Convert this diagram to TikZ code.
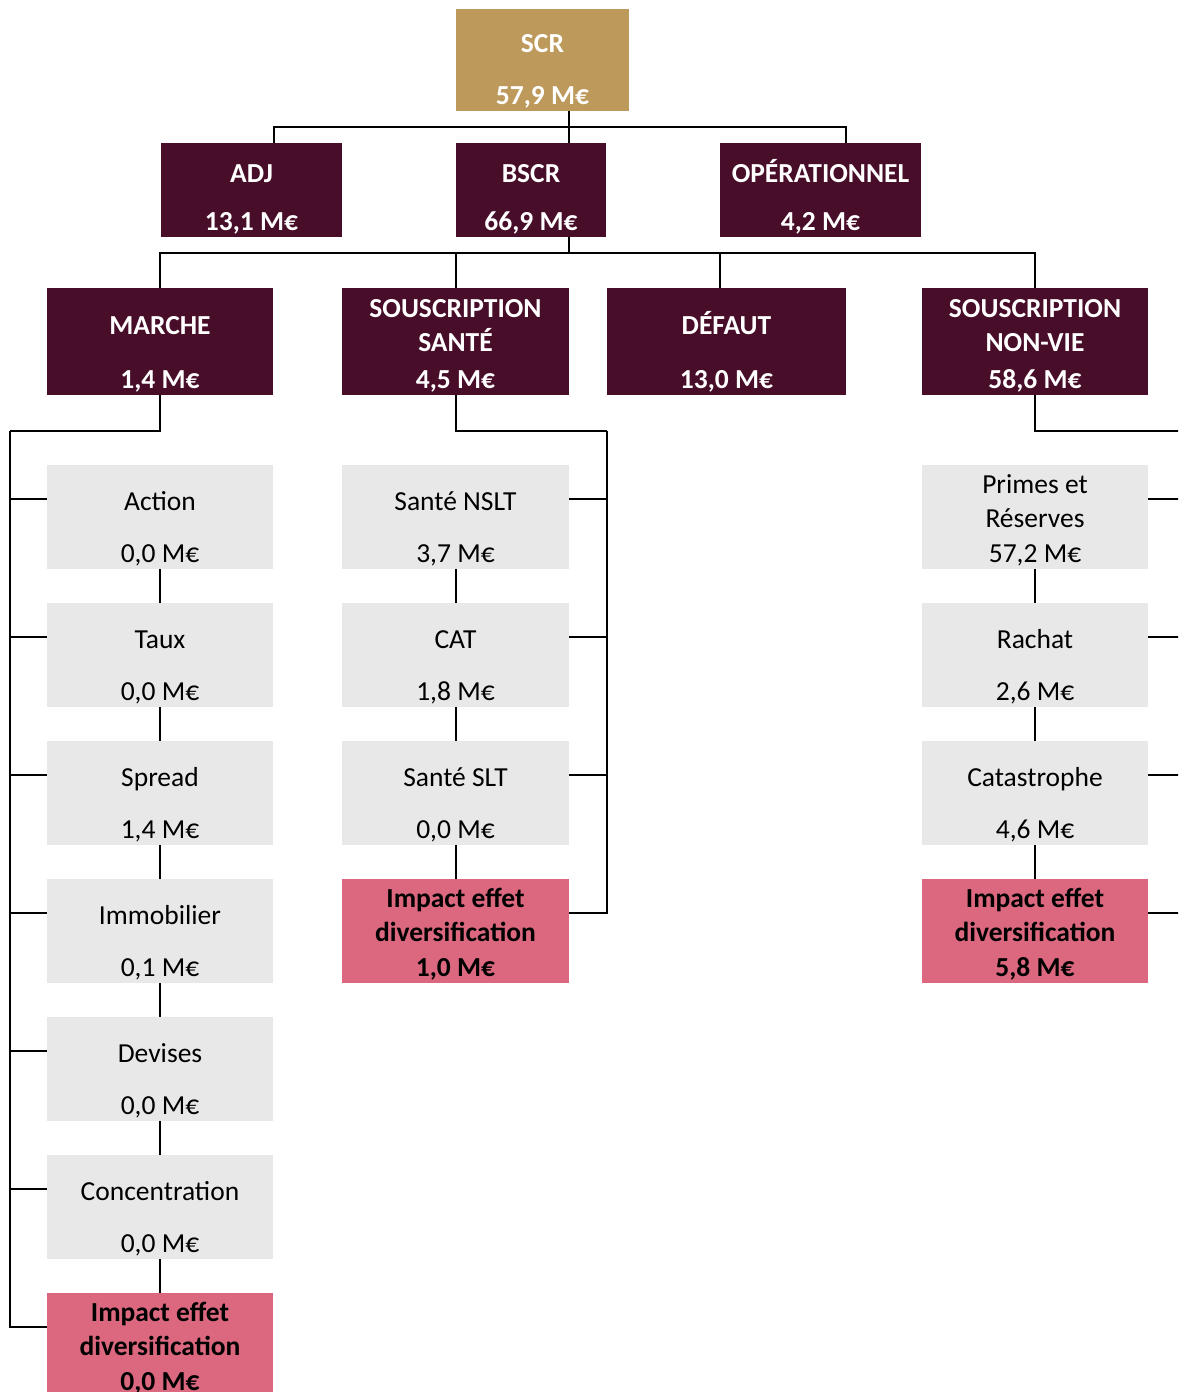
\documentclass[tikz,border=0pt]{standalone}
\usepackage{fontspec}
\setmainfont{Carlito}
\usetikzlibrary{calc}
\definecolor{goldc}{HTML}{BD9A5C}
\definecolor{maroonc}{HTML}{470D29}
\definecolor{greyc}{HTML}{E8E8E8}
\definecolor{rosec}{HTML}{DC6880}
\begin{document}
\begin{tikzpicture}[x=1pt,y=-1pt,
  box/.style={rectangle, inner sep=0pt, outer sep=0pt, anchor=north west, draw=none},
  lab/.style={anchor=base, inner sep=0pt, font=\fontsize{27.5}{33}\selectfont},
  wlab/.style={lab, text=white, font=\fontsize{27.5}{33}\selectfont\bfseries},
  blab/.style={lab, text=black, font=\fontsize{27.5}{33}\selectfont\bfseries},
  link/.style={line width=2pt, black}]
\clip (0,0) rectangle (1178,1392);
\fill[white] (0,0) rectangle (1178,1392);
% ---------- boxes ----------
\node[box, fill=goldc, minimum width=173pt, minimum height=102pt] (scr) at (456,9) {};
\node[box, fill=maroonc, minimum width=181pt, minimum height=94pt] (adj) at (161,143) {};
\node[box, fill=maroonc, minimum width=150pt, minimum height=94pt] (bscr) at (456,143) {};
\node[box, fill=maroonc, minimum width=201pt, minimum height=94pt] (op) at (720,143) {};
\node[box, fill=maroonc, minimum width=226pt, minimum height=107pt] (marche) at (47,288) {};
\node[box, fill=maroonc, minimum width=227pt, minimum height=107pt] (sante) at (342,288) {};
\node[box, fill=maroonc, minimum width=239pt, minimum height=107pt] (defaut) at (607,288) {};
\node[box, fill=maroonc, minimum width=226pt, minimum height=107pt] (nonvie) at (922,288) {};
% column 1
\node[box, fill=greyc, minimum width=226pt, minimum height=104pt] (a1) at (47,465) {};
\node[box, fill=greyc, minimum width=226pt, minimum height=104pt] (a2) at (47,603) {};
\node[box, fill=greyc, minimum width=226pt, minimum height=104pt] (a3) at (47,741) {};
\node[box, fill=greyc, minimum width=226pt, minimum height=104pt] (a4) at (47,879) {};
\node[box, fill=greyc, minimum width=226pt, minimum height=104pt] (a5) at (47,1017) {};
\node[box, fill=greyc, minimum width=226pt, minimum height=104pt] (a6) at (47,1155) {};
\node[box, fill=rosec, minimum width=226pt, minimum height=104pt] (a7) at (47,1293) {};
% column 2
\node[box, fill=greyc, minimum width=227pt, minimum height=104pt] (s1) at (342,465) {};
\node[box, fill=greyc, minimum width=227pt, minimum height=104pt] (s2) at (342,603) {};
\node[box, fill=greyc, minimum width=227pt, minimum height=104pt] (s3) at (342,741) {};
\node[box, fill=rosec, minimum width=227pt, minimum height=104pt] (s4) at (342,879) {};
% column 4
\node[box, fill=greyc, minimum width=226pt, minimum height=104pt] (n1) at (922,465) {};
\node[box, fill=greyc, minimum width=226pt, minimum height=104pt] (n2) at (922,603) {};
\node[box, fill=greyc, minimum width=226pt, minimum height=104pt] (n3) at (922,741) {};
\node[box, fill=rosec, minimum width=226pt, minimum height=104pt] (n4) at (922,879) {};
% ---------- texts ----------
\node[wlab] (scrA) at (542.5,52) {SCR};
\node[wlab] (scrB) at (542.5,104) {57,9 M€};
\node[wlab] (adjA) at (251.5,182) {ADJ};
\node[wlab] (adjB) at (251.5,230) {13,1 M€};
\node[wlab] (bscrA) at (531,182) {BSCR};
\node[wlab] (bscrB) at (531,230) {66,9 M€};
\node[wlab] (opA) at (820.5,182) {OPÉRATIONNEL};
\node[wlab] (opB) at (820.5,230) {4,2 M€};
\node[wlab] (marA) at (160,334) {MARCHE};
\node[wlab] (marB) at (160,388) {1,4 M€};
\node[wlab] (saA) at (455.5,317) {SOUSCRIPTION};
\node[wlab] (saB) at (455.5,351) {SANTÉ};
\node[wlab] (saC) at (455.5,388) {4,5 M€};
\node[wlab] (deA) at (726.5,334) {DÉFAUT};
\node[wlab] (deB) at (726.5,388) {13,0 M€};
\node[wlab] (nvA) at (1035,317) {SOUSCRIPTION};
\node[wlab] (nvB) at (1035,351) {NON-VIE};
\node[wlab] (nvC) at (1035,388) {58,6 M€};
% column 1 texts
\node[lab] (a1A) at (160,510) {Action};
\node[lab] (a1B) at (160,562) {0,0 M€};
\node[lab] (a2A) at (160,648) {Taux};
\node[lab] (a2B) at (160,700) {0,0 M€};
\node[lab] (a3A) at (160,786) {Spread};
\node[lab] (a3B) at (160,838) {1,4 M€};
\node[lab] (a4A) at (160,924) {Immobilier};
\node[lab] (a4B) at (160,976) {0,1 M€};
\node[lab] (a5A) at (160,1062) {Devises};
\node[lab] (a5B) at (160,1114) {0,0 M€};
\node[lab] (a6A) at (160,1200) {Concentration};
\node[lab] (a6B) at (160,1252) {0,0 M€};
\node[blab] (a7A) at (160,1321) {Impact effet};
\node[blab] (a7B) at (160,1355) {diversification};
\node[blab] (a7C) at (160,1390) {0,0 M€};
% column 2 texts
\node[lab] (s1A) at (455.5,510) {Santé NSLT};
\node[lab] (s1B) at (455.5,562) {3,7 M€};
\node[lab] (s2A) at (455.5,648) {CAT};
\node[lab] (s2B) at (455.5,700) {1,8 M€};
\node[lab] (s3A) at (455.5,786) {Santé SLT};
\node[lab] (s3B) at (455.5,838) {0,0 M€};
\node[blab] (s4A) at (455.5,907) {Impact effet};
\node[blab] (s4B) at (455.5,941) {diversification};
\node[blab] (s4C) at (455.5,976) {1,0 M€};
% column 4 texts
\node[lab] (n1A) at (1035,493) {Primes et};
\node[lab] (n1B) at (1035,527) {Réserves};
\node[lab] (n1C) at (1035,562) {57,2 M€};
\node[lab] (n2A) at (1035,648) {Rachat};
\node[lab] (n2B) at (1035,700) {2,6 M€};
\node[lab] (n3A) at (1035,786) {Catastrophe};
\node[lab] (n3B) at (1035,838) {4,6 M€};
\node[blab] (n4A) at (1035,907) {Impact effet};
\node[blab] (n4B) at (1035,941) {diversification};
\node[blab] (n4C) at (1035,976) {5,8 M€};
% ---------- connectors ----------
\coordinate (b0) at (569,127);
\coordinate (b0l) at (274,127);
\coordinate (b0r) at (846,127);
\draw[link] (scr.south -| b0) -- (bscr.north -| b0);
\draw[link] (adj.north -| b0l) |- (b0r) -- (op.north -| b0r);
\coordinate (b1) at (569,253);
\coordinate (b1d) at (720,253);
\draw[link] (bscr.south -| b1) -- (b1);
\draw[link] (marche.north) |- (nonvie.north |- b1) -- (nonvie.north);
\draw[link] (sante.north) -- (sante.north |- b1);
\draw[link] (b1d) -- (defaut.north -| b1d);
% column 1
\coordinate (c1) at (10,431);
\draw[link] (marche.south) |- (c1);
\foreach \n in {a1,a2,a3,a4,a5,a6,a7}{
  \draw[link] (c1) |- ($(\n.north west)+(0,34)$);
}
\draw[link] (a1.south) -- (a2.north);
\draw[link] (a2.south) -- (a3.north);
\draw[link] (a3.south) -- (a4.north);
\draw[link] (a4.south) -- (a5.north);
\draw[link] (a5.south) -- (a6.north);
\draw[link] (a6.south) -- (a7.north);
% column 2
\coordinate (c2) at (607,431);
\draw[link] (sante.south) |- (c2);
\foreach \n in {s1,s2,s3,s4}{
  \draw[link] (c2) |- ($(\n.north east)+(0,34)$);
}
\draw[link] (s1.south) -- (s2.north);
\draw[link] (s2.south) -- (s3.north);
\draw[link] (s3.south) -- (s4.north);
% column 4
\coordinate (c4) at (1183,431);
\draw[link] (nonvie.south) |- (c4);
\foreach \n in {n1,n2,n3,n4}{
  \draw[link] (c4) |- ($(\n.north east)+(0,34)$);
}
\draw[link] (n1.south) -- (n2.north);
\draw[link] (n2.south) -- (n3.north);
\draw[link] (n3.south) -- (n4.north);
\end{tikzpicture}
\end{document}
